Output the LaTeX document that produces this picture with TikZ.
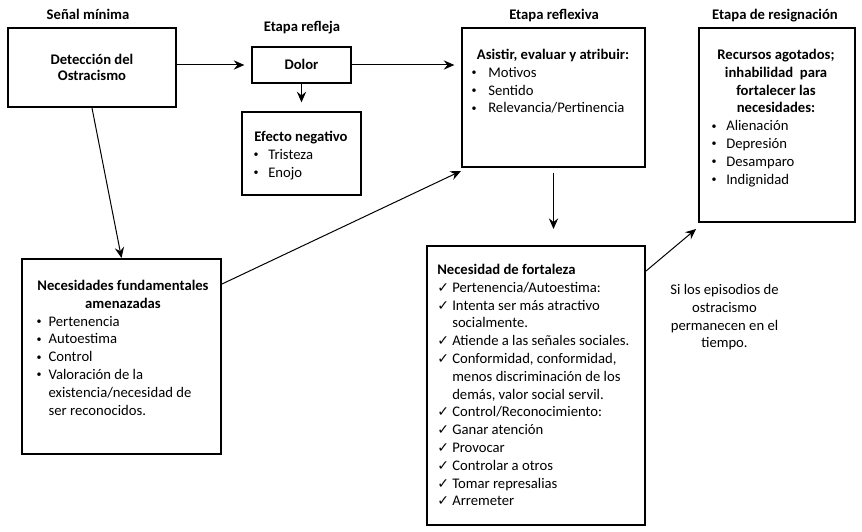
\documentclass[tikz,border=0pt]{standalone}
\usepackage{fontspec}
\setmainfont{Carlito}
\newfontfamily\symfont{DejaVu Sans}
\usetikzlibrary{arrows.meta,calc}
\newcommand\bul[1]{\makebox[#1][l]{\hspace*{1pt}\raisebox{1.2pt}{\fontsize{7.5}{7.5}\selectfont •}}}
\newcommand\chk{\makebox[11.25pt][l]{{\symfont\fontsize{10.5}{10.5}\selectfont ✓}}}
\begin{document}
\begin{tikzpicture}[x=0.75pt,y=-0.75pt,
  stagebox/.style n args={2}{draw,line width=1.5pt,inner sep=0pt,
    minimum width=#1*0.75pt,minimum height=#2*0.75pt},
  txt/.style={inner sep=0pt,font=\fontsize{11}{13.35}\selectfont},
  conn/.style={draw,line width=0.75pt,-{Stealth[length=8pt,width=7pt,inset=2.8pt]}}]
\useasboundingbox (0,0) rectangle (862,531);
% boxes
\node[stagebox={168}{79}] (det) at (92,67.5) {};
\node[stagebox={99}{36}] (dolor) at (301.5,65) {};
\node[stagebox={119}{83}] (efecto) at (301.5,153.5) {};
\node[stagebox={183}{139}] (asistir) at (553.5,97.5) {};
\node[stagebox={156}{194}] (resign) at (777,125) {};
\node[stagebox={199}{195}] (necfund) at (121.5,356.5) {};
\node[stagebox={218}{279}] (fort) at (536,385.5) {};
% titles
\node[txt,anchor=base] (t1) at (88,19.5) {\bfseries Señal mínima};
\node[txt,anchor=base] (t2) at (302,32) {\bfseries Etapa refleja};
\node[txt,anchor=base] (t3) at (554,19.5) {\bfseries Etapa reflexiva};
\node[txt,anchor=base] (t4) at (775,19.5) {\bfseries Etapa de resignación};
% box texts
\node[txt,anchor=base] (detT) at (92,64.3) {\bfseries\begin{tabular}[t]{@{}c@{}}Detección del\\[-0.85pt]Ostracismo\end{tabular}};
\node[txt,anchor=base] (dolT) at (301.5,70) {\bfseries Dolor};
\node[txt,anchor=base] (efT) at (301,141.5) {\bfseries Efecto negativo};
\node[txt,anchor=base west] (efL) at (252,159.5) {\begin{tabular}[t]{@{}l@{}}\bul{12pt}Tristeza\\\bul{12pt}Enojo\end{tabular}};
\node[txt,anchor=base] (asT) at (553,59.5) {\bfseries Asistir, evaluar y atribuir:};
\node[txt,anchor=base west] (asL) at (470,77.3) {\begin{tabular}[t]{@{}l@{}}\bul{13.5pt}Motivos\\\bul{13.5pt}Sentido\\\bul{13.5pt}Relevancia/Pertinencia\end{tabular}};
\node[txt,anchor=base] (reT) at (776,59.5) {\bfseries\begin{tabular}[t]{@{}c@{}}Recursos agotados;\\inhabilidad\ \ para\\fortalecer las\\necesidades:\end{tabular}};
\node[txt,anchor=base west] (reL) at (710,130.7) {\begin{tabular}[t]{@{}l@{}}\bul{12pt}Alienación\\\bul{12pt}Depresión\\\bul{12pt}Desamparo\\\bul{12pt}Indignidad\end{tabular}};
\node[txt,anchor=base] (nfT) at (123,290.5) {\bfseries\begin{tabular}[t]{@{}c@{}}Necesidades fundamentales\\amenazadas\end{tabular}};
\node[txt,anchor=base west] (nfL) at (35,326.1) {\begin{tabular}[t]{@{}l@{}}\bul{10pt}Pertenencia\\\bul{10pt}Autoestima\\\bul{10pt}Control\\\bul{10pt}Valoración de la\\\hspace*{10pt}existencia/necesidad de\\\hspace*{10pt}ser reconocidos.\end{tabular}};
\node[txt,anchor=base west] (foL) at (437,274.5) {\begin{tabular}[t]{@{}l@{}}\textbf{Necesidad de fortaleza}\\
\chk Pertenencia/Autoestima:\\
\chk Intenta ser más atractivo\\
\hspace*{11.25pt}socialmente.\\
\chk Atiende a las señales sociales.\\
\chk Conformidad, conformidad,\\
\hspace*{11.25pt}menos discriminación de los\\
\hspace*{11.25pt}demás, valor social servil.\\
\chk Control/Reconocimiento:\\
\chk Ganar atención\\
\chk Provocar\\
\chk Controlar a otros\\
\chk Tomar represalias\\
\chk Arremeter\end{tabular}};
\node[txt,anchor=base] (lbl) at (724.5,294.5) {\begin{tabular}[t]{@{}c@{}}Si los episodios de\\ostracismo\\permanecen en el\\tiempo.\end{tabular}};
% connectors
\coordinate (nfout) at ($(necfund.north east)+(0,26)$);
\coordinate (asin) at ($(asistir.south west)+(0,3)$);
\coordinate (ftout) at ($(fort.north east)+(0,26)$);
\coordinate (rsin) at ($(resign.south west)+(-2,6)$);
\draw[conn,shorten >=5pt] (det.east |- dolor.west) -- (dolor.west);
\draw[conn,shorten >=5pt] (dolor.east) -- (dolor.east -| asistir.west);
\draw[conn,shorten >=6.5pt] (dolor.south) -- (efecto.north);
\draw[conn] (det.south) -- (necfund.north);
\draw[conn] (nfout) -- (asin);
\draw[conn,shorten <=3.5pt,shorten >=12pt] (asistir.south) -- (asistir.south |- fort.north);
\draw[conn] (ftout) -- (rsin);
\end{tikzpicture}
\end{document}
